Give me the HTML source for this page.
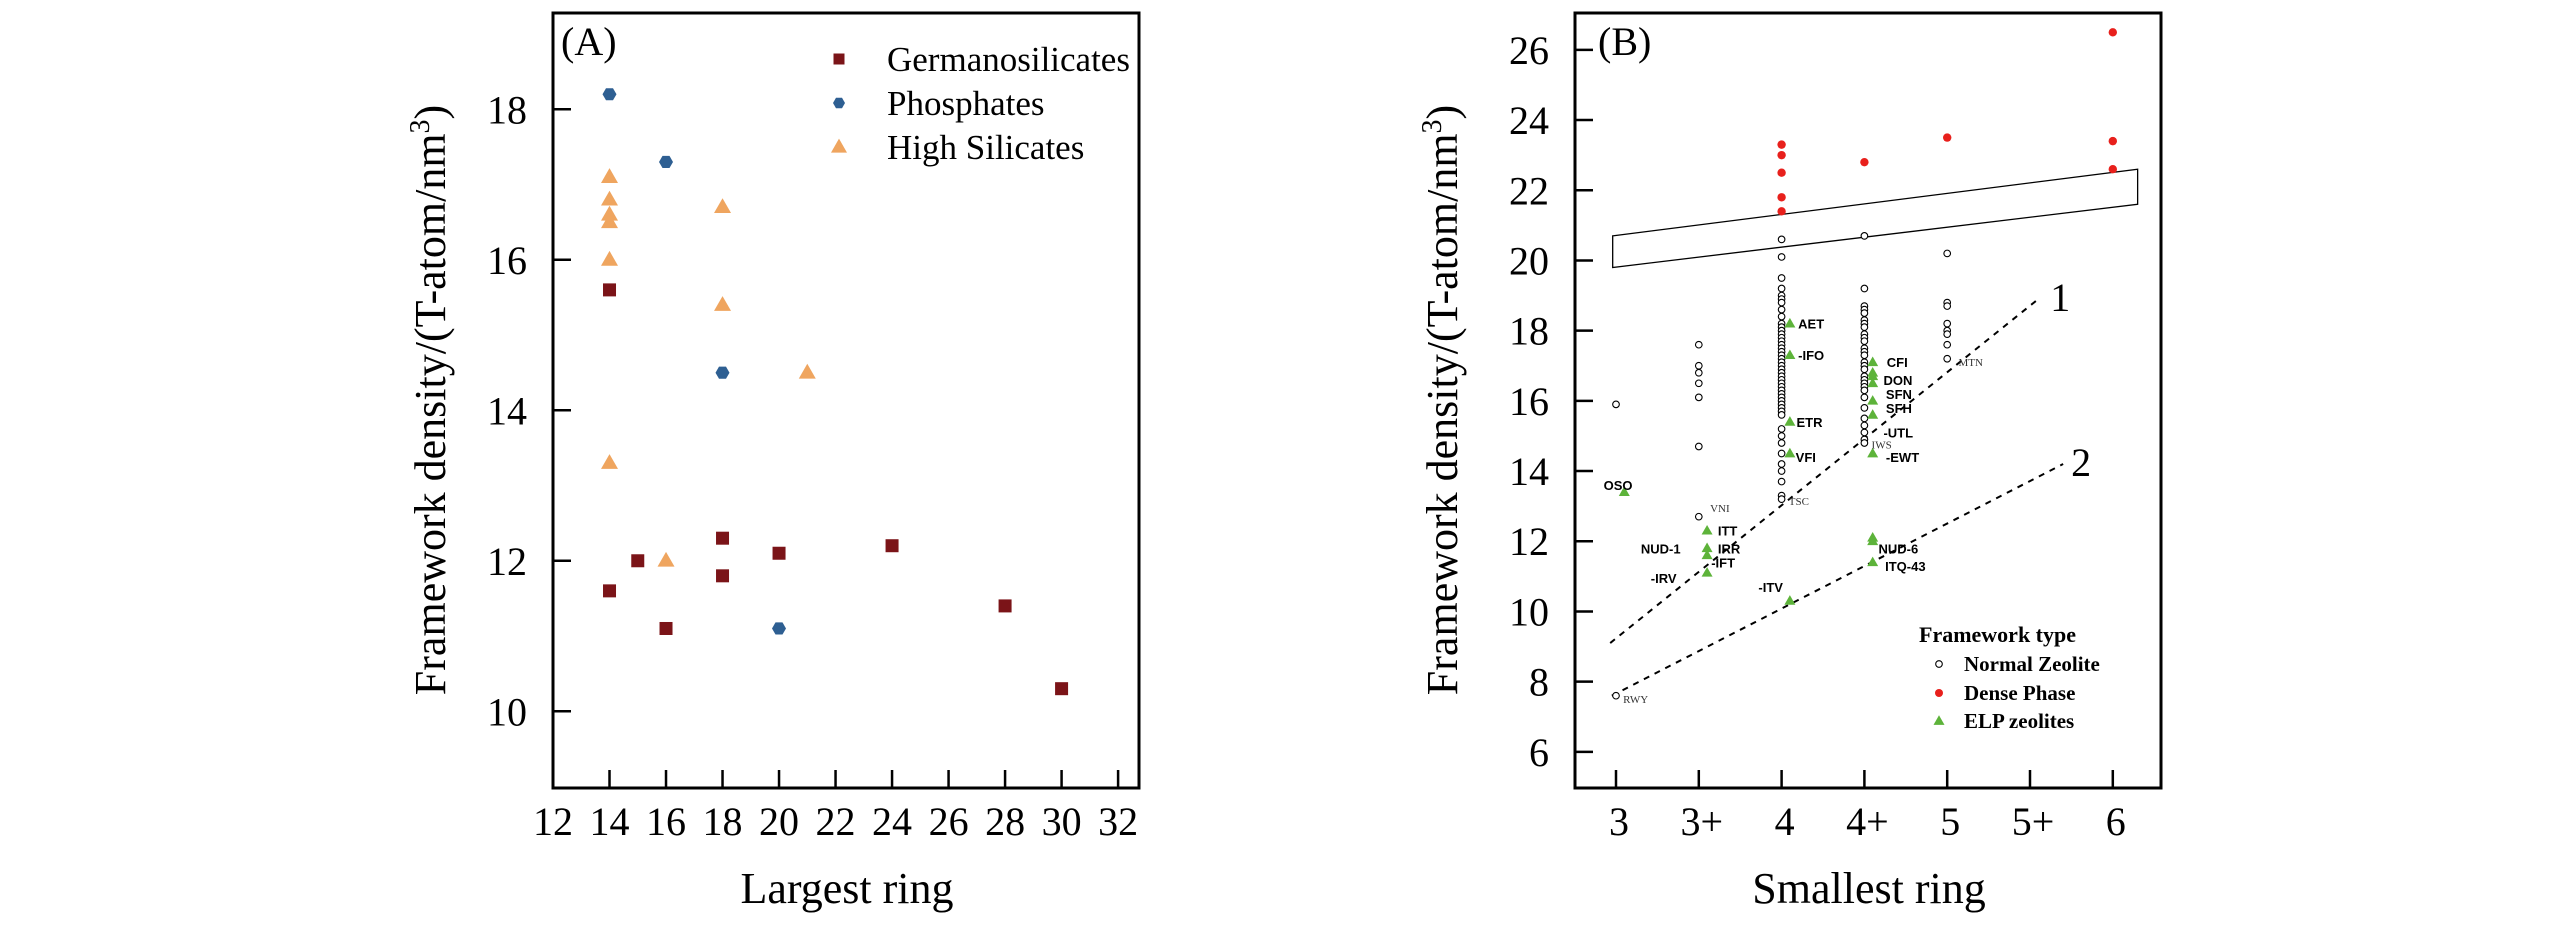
<!DOCTYPE html>
<html><head><meta charset="utf-8"><style>
html,body{margin:0;padding:0;background:#fff;}
svg{display:block;font-family:"Liberation Serif",serif;}
.lbl{font-family:"Liberation Sans",sans-serif;font-weight:bold;font-size:13px;fill:#000;}
.slbl{font-family:"Liberation Serif",serif;font-size:11px;fill:#333;}
</style></head><body>
<svg id="chart" width="2567" height="945" viewBox="0 0 2567 945"></svg>
<script>
// ---- Panel A data ----
const aGermX=[14,14,15,16,18,18,20,24,28,30];
const aGermY=[15.6,11.6,12.0,11.1,12.3,11.8,12.1,12.2,11.4,10.3];
const aPhosX=[14,16,18,20];
const aPhosY=[18.2,17.3,14.5,11.1];
const aSilX=[14,14,14,14,14,14,16,18,18,21];
const aSilY=[17.1,16.8,16.6,16.5,16.0,13.3,12.0,16.7,15.4,14.5];
const aXTicks=[12,14,16,18,20,22,24,26,28,30,32];
const aYTicks=[10,12,14,16,18];
// ---- Panel B data ----
const bCats=["3","3+","4","4+","5","5+","6"];
const bYTicks=[6,8,10,12,14,16,18,20,22,24,26];
const bNormCat0=[15.9,7.6];
const bNormCat1=[17.6,17.0,16.8,16.5,16.1,14.7,12.7];
const bNormCat2=[20.6,20.1,19.5,19.2,19.0,18.9,18.8,18.6,18.4,18.2,18.1,18.0,17.9,17.8,17.7,17.6,17.5,17.4,17.3,17.2,17.1,17.0,16.9,16.8,16.7,16.6,16.5,16.4,16.3,16.2,16.1,16.0,15.9,15.8,15.7,15.6,15.2,15.0,14.8,14.5,14.2,14.0,13.7,13.3,13.2];
const bNormCat3=[20.7,19.2,18.7,18.6,18.5,18.3,18.2,18.1,17.9,17.8,17.7,17.5,17.4,17.3,17.1,17.0,16.9,16.7,16.6,16.5,16.4,16.3,16.1,15.8,15.5,15.3,15.1,14.9,14.8];
const bNormCat4=[20.2,18.8,18.7,18.2,18.0,17.9,17.6,17.2];
const bDenseX=[2,2,2,2,2,3,4,6,6,6];
const bDenseY=[23.3,23.0,22.5,21.8,21.4,22.8,23.5,26.5,23.4,22.6];
const bElpX=[0.1,1.1,1.1,1.1,1.1,2.1,2.1,2.1,2.1,2.1,3.1,3.1,3.1,3.1,3.1,3.1,3.1,3.1,3.1,3.1];
const bElpY=[13.4,12.3,11.8,11.6,11.1,18.2,17.3,15.4,14.5,10.3,17.1,16.8,16.7,16.5,16.0,15.6,14.5,12.1,12.0,11.4];
const bElpNames=["OSO","ITT","IRR","-IFT","-IRV","AET","-IFO","ETR","VFI","-ITV","CFI","DON","SFN","SFH","-UTL","-EWT","NUD-6","ITQ-43","NUD-1"];
const bElpLabX=[-0.15,1.23,1.23,1.15,0.42,2.2,2.2,2.18,2.17,1.72,3.27,3.23,3.26,3.26,3.23,3.26,3.17,3.25,0.3];
const bElpLabY=[13.6,12.3,11.8,11.4,10.95,18.2,17.3,15.4,14.4,10.7,17.1,16.6,16.2,15.8,15.1,14.4,11.8,11.3,11.8];
const bSmallNames=["VNI","TSC","IWS","MTN","RWY"];
const bSmallX=[1.1,2.05,3.05,4.1,0.05];
const bSmallY=[12.95,13.15,14.75,17.1,7.5];
const bBandX=[-0.04,6.3];
const bBandTop=[20.7,22.6];
const bBandBot=[19.8,21.6];
const bLine1X=[-0.07,5.1], bLine1Y=[9.1,18.9];
const bLine2X=[-0.05,5.4], bLine2Y=[7.6,14.2];

const NS="http://www.w3.org/2000/svg";
const svg=document.getElementById('chart');
function mk(tag,attrs,parent,txt){const e=document.createElementNS(NS,tag);for(const k in attrs)e.setAttribute(k,attrs[k]);if(txt!==undefined)e.textContent=txt;(parent||svg).appendChild(e);return e;}

// ===== Panel A =====
const A={l:553,r:1139,t:13,b:788,x0:12,x1:32.74,y0:8.98,y1:19.28};
const ax=v=>A.l+(v-A.x0)/(A.x1-A.x0)*(A.r-A.l);
const ay=v=>A.b-(v-A.y0)/(A.y1-A.y0)*(A.b-A.t);
const gA=mk('g',{});


const fa=mk('rect',{x:A.l,y:A.t,width:A.r-A.l,height:A.b-A.t,fill:'none',stroke:'#000','stroke-width':3},gA);

aXTicks.forEach(v=>{const x=ax(v);
 mk('line',{x1:x,y1:A.b,x2:x,y2:A.b-18,stroke:'#000','stroke-width':2.5},gA);
 const t=mk('text',{x:x,y:835,'font-size':40,'text-anchor':'middle'},gA,String(v));
 });
aYTicks.forEach(v=>{const y=ay(v);
 mk('line',{x1:A.l,y1:y,x2:A.l+18,y2:y,stroke:'#000','stroke-width':2.5},gA);
 const t=mk('text',{x:527,y:y+14,'font-size':40,'text-anchor':'end'},gA,String(v));
 });
let t=mk('text',{x:847,y:903,'font-size':44,'text-anchor':'middle'},gA,'Largest ring');

t=mk('text',{transform:'translate(445,400) rotate(-90)','font-size':44,'text-anchor':'middle'},gA);

t.innerHTML='Framework density/(T-atom/nm<tspan dy="-16" font-size="28">3</tspan><tspan dy="16">)</tspan>';
t=mk('text',{x:561,y:55,'font-size':40},gA,'(A)');

function sq(x,y,s,p,name){const r=mk('rect',{x:x-s/2,y:y-s/2,width:s,height:s,fill:'#7b1418'},p);}
function hexm(x,y,r,p,name,col){let pts=[];for(let i=0;i<6;i++){const a=Math.PI/3*i;pts.push((x+r*Math.cos(a)).toFixed(1)+','+(y+r*Math.sin(a)).toFixed(1));}const e=mk('polygon',{points:pts.join(' '),fill:col},p);}
function tri(x,y,s,p,name,col){const h=s*0.87;const e=mk('polygon',{points:`${x},${y-h*0.6} ${x-s/2},${y+h*0.4} ${x+s/2},${y+h*0.4}`,fill:col},p);}
aGermX.forEach((v,i)=>sq(ax(v),ay(aGermY[i]),13,gA,'germanosilicate-point'));
aPhosX.forEach((v,i)=>hexm(ax(v),ay(aPhosY[i]),7,gA,'phosphate-point','#2e5f92'));
aSilX.forEach((v,i)=>tri(ax(v),ay(aSilY[i]),17,gA,'high-silicate-point','#efa55f'));
// legend A
const lgA=mk('g',{},gA);
sq(839,59,11,lgA,'legend-marker-germanosilicates');
hexm(839,103,6,lgA,'legend-marker-phosphates','#2e5f92');
tri(839,147,16,lgA,'legend-marker-high-silicates','#efa55f');
[['Germanosilicates',71],['Phosphates',115],['High Silicates',159]].forEach(([s,y])=>{const e=mk('text',{x:887,y:y,'font-size':35},lgA,s);});

// ===== Panel B =====
const B={l:1575,r:2161,t:13,b:788,y0:4.97,y1:27.05};
const bx=i=>1616+i*82.8;
const by=v=>B.b-(v-B.y0)/(B.y1-B.y0)*(B.b-B.t);
const gB=mk('g',{});


const fb=mk('rect',{x:B.l,y:B.t,width:B.r-B.l,height:B.b-B.t,fill:'none',stroke:'#000','stroke-width':3},gB);

bCats.forEach((c,i)=>{const x=bx(i);
 mk('line',{x1:x,y1:B.b,x2:x,y2:B.b-18,stroke:'#000','stroke-width':2.5},gB);
 const e=mk('text',{x:x+3,y:835,'font-size':40,'text-anchor':'middle'},gB,c);
 });
bYTicks.forEach(v=>{const y=by(v);
 mk('line',{x1:B.l,y1:y,x2:B.l+18,y2:y,stroke:'#000','stroke-width':2.5},gB);
 const e=mk('text',{x:1549,y:y+14,'font-size':40,'text-anchor':'end'},gB,String(v));
 });
t=mk('text',{x:1869,y:903,'font-size':44,'text-anchor':'middle'},gB,'Smallest ring');

t=mk('text',{transform:'translate(1457,400) rotate(-90)','font-size':44,'text-anchor':'middle'},gB);

t.innerHTML='Framework density/(T-atom/nm<tspan dy="-16" font-size="28">3</tspan><tspan dy="16">)</tspan>';
t=mk('text',{x:1598,y:55,'font-size':40},gB,'(B)');

// band
const band=mk('polygon',{points:`${bx(bBandX[0])},${by(bBandTop[0])} ${bx(bBandX[1])},${by(bBandTop[1])} ${bx(bBandX[1])},${by(bBandBot[1])} ${bx(bBandX[0])},${by(bBandBot[0])}`,fill:'none',stroke:'#000','stroke-width':1.3},gB);

const l1=mk('line',{x1:bx(bLine1X[0]),y1:by(bLine1Y[0]),x2:bx(bLine1X[1]),y2:by(bLine1Y[1]),stroke:'#000','stroke-width':2,'stroke-dasharray':'6,6'},gB);

const l2=mk('line',{x1:bx(bLine2X[0]),y1:by(bLine2Y[0]),x2:bx(bLine2X[1]),y2:by(bLine2Y[1]),stroke:'#000','stroke-width':2,'stroke-dasharray':'6,6'},gB);

t=mk('text',{x:bx(bLine1X[1])+12,y:by(bLine1Y[1])+12,'font-size':40},gB,'1');
t=mk('text',{x:bx(bLine2X[1])+8,y:by(bLine2Y[1])+12,'font-size':40},gB,'2');
[bNormCat0,bNormCat1,bNormCat2,bNormCat3,bNormCat4].forEach((col,ci)=>col.forEach(v=>{const c=mk('circle',{cx:bx(ci),cy:by(v),r:3.3,fill:'#fff',stroke:'#000','stroke-width':1.1},gB);}));
bDenseX.forEach((v,i)=>{const c=mk('circle',{cx:bx(v),cy:by(bDenseY[i]),r:4.2,fill:'#e8201c'},gB);});
bElpX.forEach((v,i)=>tri(bx(v),by(bElpY[i]),11,gB,'elp-zeolite-point','#5db33a'));
bElpNames.forEach((n,i)=>{const e=mk('text',{x:bx(bElpLabX[i]),y:by(bElpLabY[i])+5,class:'lbl'},gB,n);});
bSmallNames.forEach((n,i)=>{const e=mk('text',{x:bx(bSmallX[i])+3,y:by(bSmallY[i])+4,class:'slbl'},gB,n);});
// legend B
const lgB=mk('g',{},gB);
t=mk('text',{x:1919,y:642,'font-size':22,'font-weight':'bold'},lgB,'Framework type');
let c=mk('circle',{cx:1939,cy:664,r:3.3,fill:'#fff',stroke:'#000','stroke-width':1.1},lgB);
c=mk('circle',{cx:1939,cy:693,r:4,fill:'#e8201c'},lgB);
tri(1939,721,11,lgB,'legend-marker-elp','#5db33a');
[['Normal Zeolite',671],['Dense Phase',700],['ELP zeolites',728]].forEach(([s,y])=>{const e=mk('text',{x:1964,y:y,'font-size':21,'font-weight':'bold'},lgB,s);});
</script>
</body></html>
